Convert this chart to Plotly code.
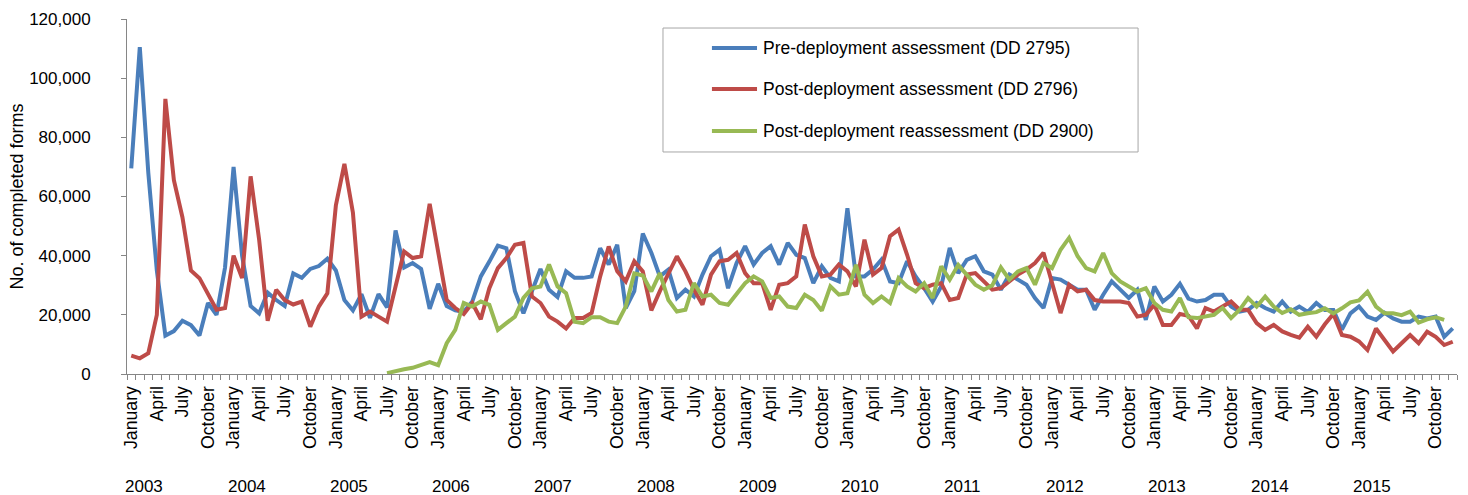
import plotly.graph_objects as go

years = [2003, 2004, 2005, 2006, 2007, 2008, 2009, 2010, 2011, 2012, 2013, 2014, 2015]
month_names = ["January", "February", "March", "April", "May", "June", "July",
               "August", "September", "October", "November", "December"]
labelled_months = ["January", "April", "July", "October"]

pre_deployment = [
    69500, 110500, 68000, 35000, 13000, 14500, 18000, 16500, 13000, 24000, 20000, 36000,
    70000, 40000, 23000, 20500, 27500, 25000, 23000, 34000, 32500, 35500, 36500, 39000,
    35000, 25000, 21500, 27000, 19000, 27000, 22500, 48500, 36000, 37500, 35500, 22000,
    30500, 23000, 21500, 21000, 24500, 33000, 38000, 43400, 42500, 28000, 20500, 28500,
    35500, 28500, 26000, 34700, 32500, 32500, 33000, 42500, 37000, 43700, 22300, 28000,
    47500, 41000, 33000, 35300, 25700, 28500, 26200, 33600, 39800, 42000, 29000, 37500,
    43200, 37000, 40900, 43200, 37000, 44300, 40300, 39200, 30700, 36400, 32500, 31300,
    56000, 33000, 33000, 35300, 38700, 31300, 30700, 38100, 33000, 29000, 24500, 29600,
    42600, 34100, 38600, 39800, 34700, 33600, 28500, 33600, 31900, 30200, 25700, 22300,
    32400, 31900, 30200, 28500, 28500, 21700, 26800, 31300, 28500, 25700, 28500, 18300,
    29600, 24500, 26800, 30500, 25500, 24500, 25000, 26800, 26800, 22800, 21100, 21700,
    24000, 22300, 21100, 24500, 21100, 22800, 21000, 24000, 21600, 21600, 15000, 20500,
    22800, 19400, 18300, 20700, 18800, 17700, 17700, 19400, 18800, 19400, 12600, 15400,
]

post_deployment = [
    6200, 5300, 7000, 20000, 93000, 65500, 53000, 35000, 32400, 27300, 21700, 22300,
    40000, 32400, 66800, 45400, 18000, 28500, 25000, 23500, 24500, 16000, 22800, 27300,
    57000, 71000, 54500, 19400, 21100, 19400, 17700, 29600, 41400, 39200, 39800, 57500,
    42000, 25000, 22300, 20300, 24000, 18500, 29000, 35800, 39200, 43700, 44300, 26200,
    24000, 19400, 17700, 15400, 18900, 18900, 20600, 33000, 43100, 34700, 31300, 38100,
    34700, 21500, 28000, 34100, 39800, 34700, 28500, 23400, 33600, 38100, 38600, 40900,
    34100, 30700, 30700, 21700, 30200, 30700, 33000, 50500, 39800, 33000, 33600, 37000,
    34700, 29600, 45400, 33600, 35800, 46600, 48800, 40300, 30700, 29000, 30200, 30700,
    25000, 25700, 33600, 34100, 31300, 28500, 29000, 31300, 33600, 35300, 37500, 41000,
    31300, 20600, 30200, 27900, 28500, 25000, 24500, 24500, 24500, 24000, 19400, 20000,
    23400, 16600, 16600, 20300, 19700, 15400, 22300, 21100, 22800, 24500, 21700, 21700,
    17200, 14900, 16600, 14400, 13200, 12300, 16000, 12600, 16800, 20300, 13200, 12600,
    11000, 8100, 15400, 11500, 7600, 10400, 13200, 10400, 14300, 12600, 9800, 10900,
]

# Reassessment form starts in July 2005
reassessment_start = "2005-07"
reassessment = [
    300, 1100, 1600, 2100, 3000,
    4000, 3000, 10400, 14900, 24000, 22800, 24500, 23400, 14900, 17200, 19400, 25700,
    29000, 29600, 37000, 29600, 27300, 17700, 17200, 19200, 19200, 17700, 17200, 22800,
    34000, 33300, 27900, 34100, 25000, 21100, 21700, 30700, 26200, 26800, 24000, 23400,
    27300, 30700, 33000, 31300, 25700, 26200, 22800, 22300, 26800, 25000, 21400, 29600,
    26800, 27300, 36900, 26800, 24000, 26200, 24000, 32400, 29600, 27900, 30700, 25700,
    36400, 31900, 36900, 33600, 30200, 28500, 30000, 36000, 31900, 34700, 35800, 30200,
    37500, 35800, 42000, 46000, 39800, 35800, 34700, 40900, 34100, 31300, 29600, 27900,
    29000, 24000, 21700, 21100, 25700, 19200, 18900, 19400, 20000, 22300, 18900, 21700,
    25700, 22800, 26200, 22800, 20600, 21900, 20000, 20500, 20900, 22200, 20500, 22200,
    24200, 24900, 27800, 22800, 20500, 20500, 19900, 21100, 17400, 18500, 19200, 18300,
]

series_names = [
    "Pre-deployment assessment (DD 2795)",
    "Post-deployment assessment (DD 2796)",
    "Post-deployment reassessment (DD 2900)",
]
colors = ["#4A7EBB", "#BE4B48", "#98B954"]

months = [f"{y}-{m:02d}" for y in years for m in range(1, 13)]
tick_text = [month_names[int(k[5:]) - 1] if month_names[int(k[5:]) - 1] in labelled_months else ""
             for k in months]
re_x = months[months.index(reassessment_start):]

FONT = "Liberation Sans, Arial, sans-serif"

fig = go.Figure()
series = [(months, pre_deployment), (months, post_deployment), (re_x, reassessment)]
for (xs, ys), name, col in zip(series, series_names, colors):
    fig.add_trace(go.Scatter(x=xs, y=ys, mode="lines", name=name,
                             line=dict(color=col, width=4), showlegend=False))

for y in years:
    fig.add_annotation(x=f"{y}-01", y=-0.318, xref="x", yref="paper", text=str(y),
                       showarrow=False, xanchor="left", yanchor="middle", xshift=-8,
                       font=dict(family=FONT, size=17, color="black"))

# Legend box drawn in paper coordinates (Excel-style layout)
fig.add_shape(type="rect", xref="paper", yref="paper", x0=0.403, x1=0.7602,
              y0=0.6254, y1=0.9746, line=dict(color="#A6A6A6", width=1),
              fillcolor="white", layer="above")
legend_rows = [0.9183, 0.8028, 0.6845]
for name, col, ly in zip(series_names, colors, legend_rows):
    fig.add_shape(type="line", xref="paper", yref="paper", x0=0.4398, x1=0.4737,
                  y0=ly, y1=ly, line=dict(color=col, width=4), layer="above")
    fig.add_annotation(x=0.4767, y=ly, xref="paper", yref="paper", text=name,
                       showarrow=False, xanchor="left", yanchor="middle",
                       font=dict(family=FONT, size=17.5, color="black"))

fig.update_layout(
    width=1468, height=495,
    margin=dict(l=127, r=11, t=19, b=121),
    paper_bgcolor="white", plot_bgcolor="white",
    font=dict(family=FONT, size=17, color="black"),
    showlegend=False,
    xaxis=dict(type="category", categoryorder="array", categoryarray=months,
               range=[-0.5, len(months) - 0.5],
               tickmode="array", tickvals=months, ticktext=tick_text,
               tickangle=-90, tickson="boundaries",
               showline=True, linecolor="#868686", linewidth=1,
               ticks="outside", ticklen=5, tickcolor="#868686",
               showgrid=False, zeroline=False, ticklabelstandoff=4,
               tickfont=dict(family=FONT, size=17.7, color="black")),
    yaxis=dict(range=[0, 120000], dtick=20000, tickformat=",",
               showline=True, linecolor="#868686", linewidth=1,
               ticks="outside", ticklen=5, tickcolor="#868686",
               showgrid=False, zeroline=False, ticklabelstandoff=27,
               title=dict(text="No. of completed forms", standoff=0,
                          font=dict(family=FONT, size=18, color="black")),
               automargin=False,
               tickfont=dict(family=FONT, size=17, color="black")),
)

fig.write_html("out.html", post_script="document.body.style.margin='0';",
               config={"displayModeBar": False})
